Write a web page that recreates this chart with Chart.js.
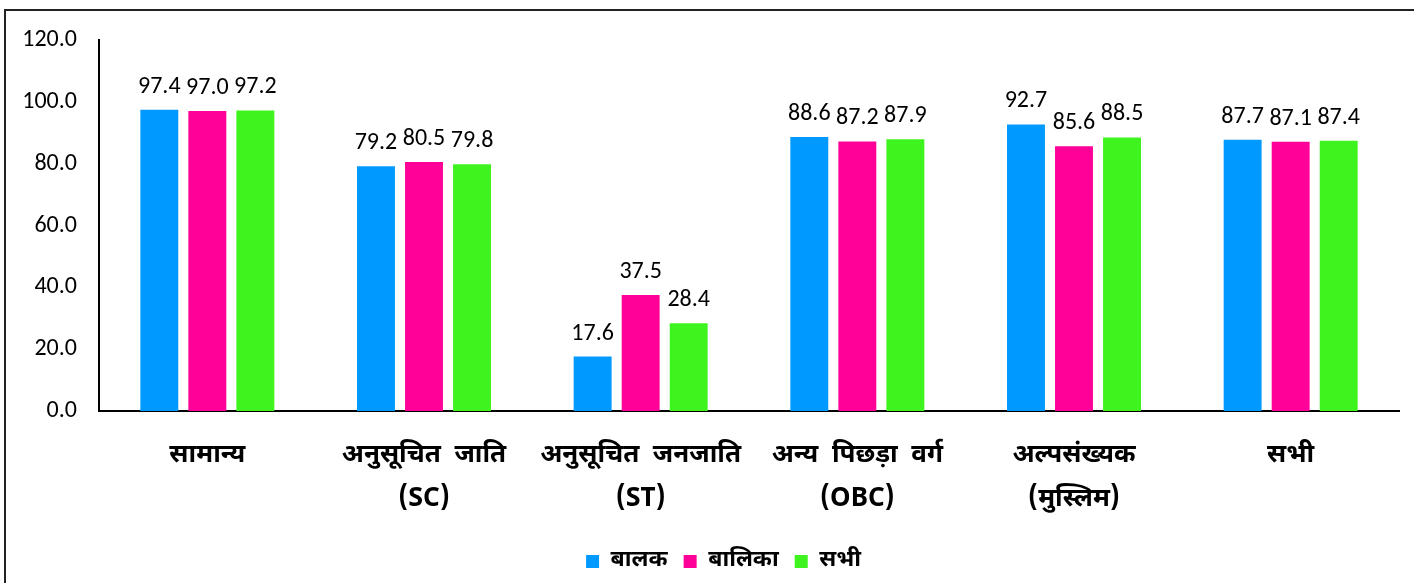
<!DOCTYPE html>
<html>
<head>
<meta charset="utf-8">
<script src="https://cdn.jsdelivr.net/npm/chart.js@4.4.1/dist/chart.umd.min.js"></script>
<style>
html,body{margin:0;padding:0;background:#fff;}
#wrap{position:relative;width:1414px;height:583px;overflow:hidden;}
</style>
</head>
<body>
<div id="wrap"><canvas id="c" width="1414" height="583"></canvas></div>
<script>
const categories = [
  "सामान्य",
  ["अनुसूचित  जाति", "(SC)"],
  ["अनुसूचित  जनजाति", "(ST)"],
  ["अन्य  पिछड़ा  वर्ग", "(OBC)"],
  ["अल्पसंख्यक", "(मुस्लिम)"],
  "सभी"
];
const seriesNames = ["बालक", "बालिका", "सभी"];
const boys  = [97.4, 79.2, 17.6, 88.6, 92.7, 87.7];
const girls = [97.0, 80.5, 37.5, 87.2, 85.6, 87.1];
const all   = [97.2, 79.8, 28.4, 87.9, 88.5, 87.4];
const yTicks = [0, 20, 40, 60, 80, 100, 120];
const colors = ["#0099FF", "#FF0099", "#3FF41E"];

const FONT = "Calibri, Carlito, 'Open Sans', 'Noto Sans', sans-serif";
const HFONT = "'Nirmala UI', 'Noto Sans Devanagari', 'Open Sans', 'Noto Sans', sans-serif";

const frame = {
  id: 'frame',
  beforeDraw(chart) {
    const ctx = chart.ctx;
    ctx.save();
    ctx.fillStyle = '#fff';
    ctx.fillRect(0, 0, chart.width, chart.height);
    ctx.strokeStyle = '#222';
    ctx.lineWidth = 2;
    ctx.strokeRect(5, 10, chart.width + 20, chart.height + 20);
    ctx.restore();
  }
};

const legendShift = {
  id: 'legendShift',
  afterLayout(chart) {
    if (chart.legend) {
      chart.legend.left += 24;
      chart.legend.right += 24;
    }
  }
};

const valueLabels = {
  id: 'valueLabels',
  afterDatasetsDraw(chart) {
    const ctx = chart.ctx;
    ctx.save();
    ctx.font = "24px " + FONT;
    ctx.fillStyle = '#000';
    ctx.textAlign = 'center';
    ctx.textBaseline = 'alphabetic';
    chart.data.datasets.forEach((ds, i) => {
      chart.getDatasetMeta(i).data.forEach((bar, j) => {
        ctx.fillText(ds.data[j].toFixed(1), bar.x, bar.y - 17);
      });
    });
    ctx.restore();
  }
};

new Chart(document.getElementById('c'), {
  type: 'bar',
  data: {
    labels: categories,
    datasets: [
      { label: seriesNames[0], data: boys,  backgroundColor: colors[0] },
      { label: seriesNames[1], data: girls, backgroundColor: colors[1] },
      { label: seriesNames[2], data: all,   backgroundColor: colors[2] }
    ]
  },
  options: {
    responsive: false,
    animation: false,
    devicePixelRatio: 1,
    layout: { padding: { top: 40, right: 15, left: 0, bottom: 0 } },
    datasets: { bar: { categoryPercentage: 0.665, barPercentage: 0.79 } },
    plugins: {
      legend: {
        position: 'bottom',
        labels: {
          boxWidth: 13, boxHeight: 13, padding: 16,
          color: '#000',
          font: { family: HFONT, size: 23, weight: 'bold' }
        }
      },
      tooltip: { enabled: false }
    },
    scales: {
      x: {
        grid: { display: false, drawTicks: false },
        border: { display: true, color: '#000', width: 2 },
        ticks: {
          color: '#000', padding: 24, maxRotation: 0, autoSkip: false,
          font: { family: HFONT, size: 26, weight: 'bold', lineHeight: 1.7 }
        },
        afterFit(scale) { scale.height = 123; }
      },
      y: {
        min: 0, max: 120,
        afterBuildTicks(scale) { scale.ticks = yTicks.map(v => ({ value: v })); },
        grid: { display: false, drawTicks: false },
        border: { display: true, color: '#000', width: 2 },
        ticks: {
          color: '#000', padding: 22,
          font: { family: FONT, size: 24 },
          callback: v => v.toFixed(1)
        },
        afterFit(scale) { scale.width = 99; }
      }
    }
  },
  plugins: [frame, legendShift, valueLabels]
});
</script>
</body>
</html>
